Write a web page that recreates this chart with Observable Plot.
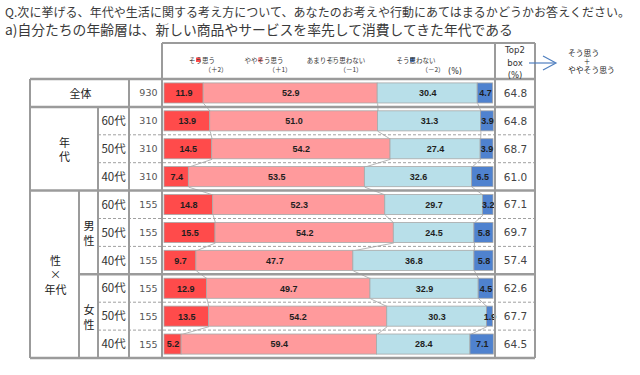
<!DOCTYPE html>
<html><head><meta charset="utf-8">
<script src="https://cdn.jsdelivr.net/npm/d3@7"></script>
<script src="https://cdn.jsdelivr.net/npm/@observablehq/plot@0.6"></script>
<style>
body{margin:0;background:#fff;font-family:"Noto Sans CJK JP",sans-serif;}
#title{height:40px;position:relative;color:#3a3a3a;width:640px;}
#t1{position:absolute;left:5px;top:5px;font-size:12px;line-height:14px;white-space:nowrap;letter-spacing:0.05px;}
#t2{position:absolute;left:5px;top:22px;font-size:13.8px;line-height:15px;white-space:nowrap;}
#chart{width:640px;height:335px;}
</style></head><body>
<div id="title">
<div id="t1">Q.次に挙げる、年代や生活に関する考え方について、あなたのお考えや行動にあてはまるかどうかお答えください。</div>
<div id="t2">a)自分たちの年齢層は、新しい商品やサービスを率先して消費してきた年代である</div>
</div>
<div id="chart"></div>
<script>
// ---- data ----
const categories = ["そう思う", "ややそう思う", "あまりそう思わない", "そう思わない"];
const categoryCodes = ["（＋2）", "（＋1）", "（－1）", "（－2）"];
const colors = ["#ff4b4b", "#ff9a9c", "#b8dfe9", "#4f82cf"];
const rowGroups = ["全体", "年代", "年代", "年代", "性×年代", "性×年代", "性×年代", "性×年代", "性×年代", "性×年代"];
const rowSubGroups = ["", "", "", "", "男性", "男性", "男性", "女性", "女性", "女性"];
const rowAges = ["", "60代", "50代", "40代", "60代", "50代", "40代", "60代", "50代", "40代"];
const sampleN = [930, 310, 310, 310, 155, 155, 155, 155, 155, 155];
const soOmou = [11.9, 13.9, 14.5, 7.4, 14.8, 15.5, 9.7, 12.9, 13.5, 5.2];
const yayaSoOmou = [52.9, 51.0, 54.2, 53.5, 52.3, 54.2, 47.7, 49.7, 54.2, 59.4];
const amariSoOmowanai = [30.4, 31.3, 27.4, 32.6, 29.7, 24.5, 36.8, 32.9, 30.3, 28.4];
const soOmowanai = [4.7, 3.9, 3.9, 6.5, 3.2, 5.8, 5.8, 4.5, 1.9, 7.1];
const top2Box = [64.8, 64.8, 68.7, 61.0, 67.1, 69.7, 57.4, 62.6, 67.7, 64.5];
const top2Header = ["Top2", "box", "(%)"];
const noteLines = ["そう思う", "＋", "ややそう思う"];

// ---- build ----
const series = [soOmou, yayaSoOmou, amariSoOmowanai, soOmowanai];
const rows = sampleN.map((n, i) => ({i, group: rowGroups[i], sub: rowSubGroups[i], age: rowAges[i], n, top2: top2Box[i]}));
const segs = [];
const cums = [];
rows.forEach((r, i) => {
  let c = 0; const cc = [];
  series.forEach((arr, k) => {
    segs.push({i, cat: categories[k], x1: c, x2: c + arr[i], value: arr[i]});
    c += arr[i]; cc.push(c);
  });
  cums.push(cc);
});
const H = 0.36;
const links = [];
for (let i = 0; i < rows.length - 1; i++) {
  for (let k = 0; k < 3; k++) links.push({x1: cums[i][k], x2: cums[i + 1][k], y1: i + H, y2: i + 1 - H});
}
function spanCenters(keys) {
  const out = [];
  keys.forEach((g, i) => {
    if (!g) return;
    const last = out[out.length - 1];
    if (last && last.label === g && last.end === i - 1) last.end = i;
    else out.push({label: g, start: i, end: i});
  });
  return out.map(d => ({...d, y: (d.start + d.end) / 2}));
}
const groupSpans = spanCenters(rowGroups);
const subSpans = spanCenters(rowSubGroups);
const vert = s => s.includes("×") ? s.replace("×", "\n×\n") : [...s].join("\n");
const groupX = d => d.start === d.end ? 80 : (rowSubGroups[d.start] ? 55 : 64);

const LBL = "Noto Sans CJK JP";
const NUM = "DejaVu Sans";

const plot = Plot.plot({
  width: 640, height: 335, margin: 0,
  x: {domain: [0, 100], range: [164, 493], axis: null},
  y: {domain: [-0.5, 9.5], range: [39, 318], axis: null},
  color: {domain: categories, range: colors},
  style: {background: "transparent", overflow: "visible"},
  marks: [
    Plot.link(links, {x1: "x1", x2: "x2", y1: "y1", y2: "y2", stroke: "#a3a3a3", strokeWidth: 0.8}),
    Plot.rectX(segs, {x1: "x1", x2: "x2", y1: d => d.i - H, y2: d => d.i + H, fill: "cat", stroke: "#a8a8a8", strokeWidth: 0.8}),
    Plot.text(segs, {x: d => (d.x1 + d.x2) / 2, y: "i", text: d => d.value.toFixed(1), fontWeight: "bold", fontSize: 9, fill: "#1e1e1e", fontFamily: "Liberation Sans"}),
    Plot.text(rows, {y: "i", text: d => String(d.n), frameAnchor: "left", dx: 157, textAnchor: "end", fontSize: 9.5, fill: "#555", fontFamily: NUM, letterSpacing: "0.8px"}),
    Plot.text(rows, {y: "i", text: d => d.top2.toFixed(1), frameAnchor: "left", dx: 515, textAnchor: "middle", fontSize: 10.5, fill: "#444", fontFamily: NUM}),
    Plot.text(rows.filter(d => d.age), {y: "i", text: "age", frameAnchor: "left", dx: 113, textAnchor: "middle", fontSize: 11.5, fill: "#333", fontFamily: LBL}),
    ...groupSpans.map(d => Plot.text([d], {y: "y", text: s => s.start === s.end ? s.label : vert(s.label), frameAnchor: "left", dx: groupX(d), textAnchor: "middle", fontSize: 11, lineHeight: 1.3, fill: "#222", fontFamily: LBL})),
    Plot.text(subSpans, {y: "y", text: d => vert(d.label), frameAnchor: "left", dx: 88.5, textAnchor: "middle", fontSize: 11, lineHeight: 1.35, fill: "#222", fontFamily: LBL})
  ]
});
document.getElementById("chart").appendChild(plot);

const svg = d3.select(plot);
const ys = plot.scale("y");
const yb = k => ys.apply(k - 0.5); // boundary above row k
const g = svg.append("g");
const lineColor = "#9b9b9b";
function hline(y, x1, x2, w = 2, dash = null, col = lineColor) {
  const l = g.append("line").attr("x1", x1).attr("x2", x2).attr("y1", y).attr("y2", y)
    .attr("stroke", col).attr("stroke-width", w);
  if (dash) l.attr("stroke-dasharray", dash);
}
function vline(x, y1, y2, w = 2) {
  g.append("line").attr("x1", x).attr("x2", x).attr("y1", y1).attr("y2", y2).attr("stroke", lineColor).attr("stroke-width", w);
}
const groupStarts = new Set(groupSpans.map(d => d.start));
const subStarts = new Set(subSpans.map(d => d.start));
for (let k = 0; k <= rows.length; k++) {
  const y = yb(k);
  if (k === 0 || k === rows.length || groupStarts.has(k)) hline(y, 30, 535, 2.5);
  else if (subStarts.has(k)) hline(y, 79, 535, 2.5);
  else hline(y, 98, 535, 1, "3,2", "#a0a0a0");
}
const yTop = yb(0), yBot = yb(rows.length);
const headerTop = 3;
vline(30, yTop, yBot);
vline(79, yb(subSpans[0].start), yBot);
vline(98, yb(1), yBot);
vline(129, yTop, yBot);
vline(162, headerTop, yBot);
vline(495, headerTop, yBot);
vline(535, headerTop, yBot);
hline(headerTop, 162, 535, 2);

// legend in header
const leg = svg.append("g").attr("font-family", LBL).attr("fill", "#333");
const legX = [196, 258, 330, 410];
const codeX = [216, 280, 351, 433];
categories.forEach((c, k) => {
  leg.append("rect").attr("x", legX[k]).attr("y", 17.5).attr("width", 4.5).attr("height", 4.5)
    .attr("fill", k === 2 ? "#eef6f8" : colors[k]).attr("stroke", k === 2 ? "#999" : "none").attr("stroke-width", 0.6);
  leg.append("text").attr("x", legX[k] + 6).attr("y", 22.5).attr("font-size", 6.5).text(c);
  leg.append("text").attr("x", codeX[k]).attr("y", 32).attr("font-size", 6.5).attr("text-anchor", "middle").text(categoryCodes[k]);
});
leg.append("text").attr("x", 455).attr("y", 34).attr("font-size", 8).attr("text-anchor", "middle").attr("font-family", NUM).text("(%)");

// Top2 header
top2Header.forEach((t, k) => {
  svg.append("text").attr("x", 515).attr("y", 13 + k * 12.5).attr("font-size", 8.5).attr("text-anchor", "middle")
    .attr("font-family", NUM).attr("fill", "#333").text(t);
});
// arrow + note
svg.append("line").attr("x1", 529).attr("x2", 555).attr("y1", 23).attr("y2", 23).attr("stroke", "#4f7fbf").attr("stroke-width", 1.2);
svg.append("path").attr("d", "M543,16 L556,23 L543,30").attr("fill", "none").attr("stroke", "#4f7fbf").attr("stroke-width", 1.2);
const noteY = [16, 24, 32.5];
noteLines.forEach((t, k) => {
  svg.append("text").attr("x", k === 1 ? 587 : 568).attr("y", noteY[k]).attr("font-size", k === 1 ? 6.5 : 7.8)
    .attr("text-anchor", k === 1 ? "middle" : "start").attr("font-family", LBL).attr("fill", "#222").text(t);
});
</script>
</body></html>
